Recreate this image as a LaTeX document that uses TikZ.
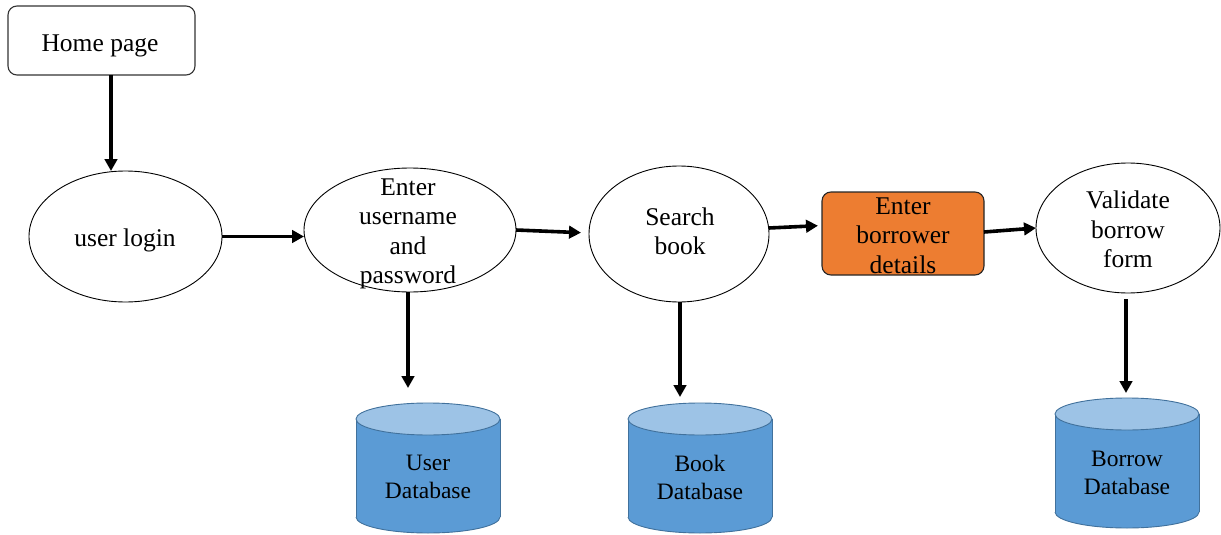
\documentclass[tikz,border=0pt]{standalone}
\usepackage{fontspec}
\setmainfont{Liberation Serif}
\usetikzlibrary{arrows.meta,shapes.geometric}

\definecolor{dbbody}{RGB}{91,155,213}
\definecolor{dbtop}{RGB}{157,195,230}
\definecolor{dbedge}{RGB}{65,113,156}
\definecolor{stepfill}{RGB}{237,125,49}

\tikzset{
  proc/.style={ellipse, draw=black, line width=0.9pt, fill=white, inner sep=0pt, outer sep=0pt},
  roundbox/.style={rectangle, rounded corners=9pt, draw=black!80, line width=1.1pt, inner sep=0pt, outer sep=0pt},
  lbl/.style={align=center, inner sep=0pt, font=\fontsize{25.5}{29.3}\selectfont},
  dblbl/.style={align=center, inner sep=0pt, font=\fontsize{23.5}{28}\selectfont},
  arr/.style={line width=3.6pt, -{Triangle[length=12pt,width=12.5pt]}},
  pics/dbcyl/.style={code={
    % body with its rounded lower rim
    \fill[dbbody] (0,98) ellipse[x radius=72, y radius=16];
    \fill[dbbody] (-72,0) rectangle (72,98);
    \draw[dbedge, line width=0.9pt] (-72,0) -- (-72,98);
    \draw[dbedge, line width=0.9pt] (72,0) -- (72,98);
    \begin{scope}
      \clip (-80,98) rectangle (80,125);
      \draw[dbedge, line width=0.9pt] (0,98) ellipse[x radius=72, y radius=16];
    \end{scope}
    % top face
    \filldraw[fill=dbtop, draw=dbedge, line width=0.9pt] (0,0) ellipse[x radius=72, y radius=16];
  }}
}

\begin{document}
\begin{tikzpicture}[x=1pt, y=-1pt]
\useasboundingbox (0,0) rectangle (1221,535);

% process shapes
\node[roundbox, minimum width=187pt, minimum height=69pt] (home) at (101.5,40.5) {};
\node[lbl] at (100,46) {Home page};

\node[proc, minimum width=193pt, minimum height=131pt] (login) at (125.5,236.5) {};
\node[lbl] at (125,240) {user login};

\node[proc, minimum width=212pt, minimum height=124pt] (enter) at (410,230) {};
\node[lbl] at (408,234) {Enter\\username\\and\\password};

\node[proc, minimum width=180pt, minimum height=136pt] (search) at (679,234) {};
\node[lbl] at (680,231) {Search\\book};

\node[roundbox, fill=stepfill, draw=black!85, minimum width=162pt, minimum height=83pt] (borrow) at (903,233.5) {};
\node[lbl] at (903,235.5) {Enter\\borrower\\details};

\node[proc, minimum width=184pt, minimum height=130pt] (validate) at (1128,228) {};
\node[lbl] at (1128,229.5) {Validate\\borrow\\form};

% data stores
\pic at (428,419) {dbcyl};
\node[dblbl] (userdb) at (428,477) {User\\Database};
\pic at (700,419) {dbcyl};
\node[dblbl] (bookdb) at (700,477) {Book\\Database};
\pic at (1127,414) {dbcyl};
\node[dblbl] (borrowdb) at (1127,473) {Borrow\\Database};

% arrow tips above the stores
\coordinate (userin) at (408,388);
\coordinate (bookin) at (680,397);
\coordinate (borrowin) at (1126,393);

% flow
\draw[arr] (home.south -| 111,0) -- (login.north -| 111,0);
\draw[arr] (login.east) -- (enter.west |- login.east);
\draw[arr, shorten >=8pt] (enter.east) -- ([yshift=1pt]search.west);
\draw[arr, shorten >=4pt] ([yshift=6pt]search.east) -- ([yshift=8pt]borrow.west);
\draw[arr] ([yshift=1.5pt]borrow.east) -- (validate.west);

% reads and writes to the stores
\draw[arr] (enter.south -| userin) -- (userin);
\draw[arr] (search.south -| bookin) -- (bookin);
\draw[arr, shorten <=6pt] (validate.south -| borrowin) -- (borrowin);
\end{tikzpicture}
\end{document}
